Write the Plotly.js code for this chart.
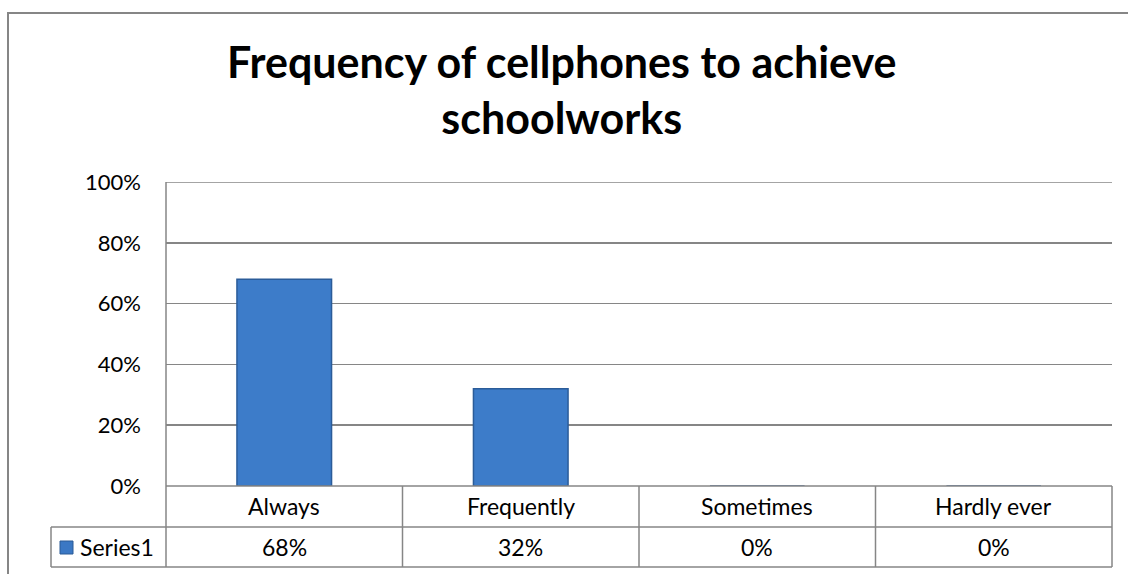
<!DOCTYPE html>
<html>
<head>
<meta charset="utf-8">
<script src="https://cdn.plot.ly/plotly-3.0.1.min.js"></script>
<style>html,body{margin:0;padding:0;background:#fff;}#chart{width:1128px;height:574px;}</style>
</head>
<body>
<div id="chart"></div>
<script>
const categories = ["Always", "Frequently", "Sometimes", "Hardly ever"];
const values = [0.68, 0.32, 0, 0];
const seriesName = "Series1";
const yTicks = [0, 0.2, 0.4, 0.6, 0.8, 1.0];
const yTickLabels = ["0%", "20%", "40%", "60%", "80%", "100%"];
const chartTitle = "Frequency of cellphones to achieve<br>schoolworks";

const W = 1128, H = 574;
const L = 166, R = 16, T = 182, B = 88;
const pw = W - L - R, ph = H - T - B;
const px = v => (v - L) / pw;          // pixel x -> paper x
const py = v => (H - B - v) / ph;      // pixel y -> paper y

const FONT = "Lato, 'Open Sans', sans-serif";
const grey = "#868686";

const shapes = [];
const line = (x0, y0, x1, y1, xref, yref) => shapes.push({type: "line", xref: xref || "paper", yref: yref || "paper", x0, y0, x1, y1, line: {color: grey, width: 1.5}, layer: "above"});

// outer chart border
shapes.push({type: "rect", xref: "paper", yref: "paper", x0: px(8), x1: px(1135), y0: py(13), y1: py(590), line: {color: "#868686", width: 2}, layer: "below"});
// top gridline (100%)
line(0, yTicks[yTicks.length - 1], 1, yTicks[yTicks.length - 1], "paper", "y");
// table horizontal lines
line(px(166), py(486), px(1112), py(486));
line(px(51), py(527), px(1112), py(527));
line(px(51), py(567), px(1112), py(567));
// table vertical lines
line(px(51), py(527), px(51), py(567));
line(px(166), py(182), px(166), py(567));
line(px(1112), py(486), px(1112), py(567));
for (let i = 0; i < categories.length - 1; i++) {
  line(i + 0.5, py(486), i + 0.5, py(567), "x");
}
// legend key square
shapes.push({type: "rect", xref: "paper", yref: "paper", x0: px(60), x1: px(73), y0: py(541), y1: py(554), fillcolor: "#3b78c4", line: {color: "#2a5a96", width: 1}, layer: "above"});

const cellFont = {family: FONT, size: 23, color: "#000"};
const annotations = [];
categories.forEach((c, i) => {
  annotations.push({xref: "x", yref: "paper", x: i, y: py(506), text: c, showarrow: false, font: cellFont, yanchor: "middle"});
  annotations.push({xref: "x", yref: "paper", x: i, y: py(547), text: Math.round(values[i] * 100) + "%", showarrow: false, font: cellFont, yanchor: "middle"});
});
annotations.push({xref: "paper", yref: "paper", x: px(78), y: py(547), text: seriesName, showarrow: false, xanchor: "left", font: cellFont, yanchor: "middle"});

const data = [{
  type: "bar",
  x: categories,
  y: values,
  name: seriesName,
  marker: {color: "#3d7cc9", line: {color: "#2b5c99", width: 1.5}},
  hoverinfo: "x+y"
}];

const layout = {
  width: W, height: H,
  margin: {l: L, r: R, t: T, b: B, pad: 0},
  paper_bgcolor: "#fff", plot_bgcolor: "#fff",
  title: {text: chartTitle, x: 0.498, xanchor: "center", y: 1 - 78/H, yanchor: "top", font: {family: FONT, size: 43, color: "#000", weight: "bold"}},
  showlegend: false,
  bargap: 0.6,
  xaxis: {range: [-0.5, categories.length - 0.5], showticklabels: false, showgrid: false, zeroline: false, showline: false, ticks: ""},
  yaxis: {range: [0, 1], tickvals: yTicks, ticktext: yTickLabels, showgrid: true, gridcolor: grey, gridwidth: 1.5, zeroline: false, showline: false, ticks: "", ticklabelstandoff: 24, tickfont: {family: FONT, size: 22, color: "#000"}},
  shapes, annotations
};

Plotly.newPlot("chart", data, layout, {displayModeBar: false, staticPlot: true});
</script>
</body>
</html>
